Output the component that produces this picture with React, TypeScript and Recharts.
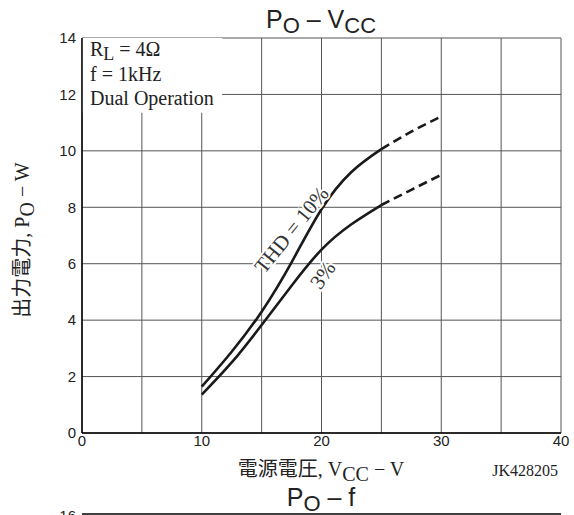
import { LineChart, Line, XAxis, YAxis, CartesianGrid, ReferenceArea, ReferenceDot } from 'recharts'

// supply voltage, V
const vcc = [10, 12.5, 15, 17.5, 20, 22.5, 25, 27.5, 30]
// output power, W
const thd10 = [1.64, 2.88, 4.3, 6.05, 7.93, 9.25, 10.06, 10.68, 11.22]
const thd3 = [1.36, 2.5, 3.83, 5.22, 6.5, 7.4, 8.08, 8.62, 9.15]
// last measured point, after which the curves are dashed
const solidEnd = 25

const xTicks = [0, 5, 10, 15, 20, 25, 30, 35, 40]
const yTicks = [0, 2, 4, 6, 8, 10, 12, 14]

const data = vcc.map((v, i) => ({
  vcc: v,
  thd10: v <= solidEnd ? thd10[i] : null,
  thd10Dash: v >= solidEnd ? thd10[i] : null,
  thd3: v <= solidEnd ? thd3[i] : null,
  thd3Dash: v >= solidEnd ? thd3[i] : null,
}))

const serif = '"Liberation Serif", "Noto Sans CJK JP", serif'
const sans = '"Liberation Sans", Arial, sans-serif'

function CurveLabel({ cx, cy, text, angle }: { cx?: number; cy?: number; text: string; angle: number }) {
  if (cx == null || cy == null) return null
  return (
    <text
      x={cx}
      y={cy}
      transform={`rotate(${angle} ${cx} ${cy})`}
      textAnchor="middle"
      dominantBaseline="central"
      fontFamily={serif}
      fontSize={21}
      fill="#333"
      stroke="#fff"
      strokeWidth={4}
      paintOrder="stroke"
    >
      {text}
    </text>
  )
}

export default function App() {
  return (
    <div style={{ position: 'absolute', left: 0, top: 0, width: 574, height: 515, background: '#fff' }}>
      <LineChart width={574} height={515} data={data} margin={{ top: 38, right: 13, bottom: 52, left: 42 }}>
        <CartesianGrid stroke="#555" strokeWidth={1} />
        <XAxis
          dataKey="vcc"
          type="number"
          domain={[0, 40]}
          ticks={xTicks}
          tickFormatter={(v) => (v % 10 === 0 ? String(v) : '')}
          tickLine={false}
          tickSize={0}
          tickMargin={2}
          height={30}
          axisLine={{ stroke: '#000', strokeWidth: 1.5 }}
          tick={{ fontFamily: sans, fontSize: 15, fill: '#222' }}
        />
        <YAxis
          type="number"
          domain={[0, 14]}
          ticks={yTicks}
          tickLine={false}
          tickSize={0}
          tickMargin={6}
          width={40}
          axisLine={{ stroke: '#000', strokeWidth: 1.5 }}
          tick={{ fontFamily: sans, fontSize: 15, fill: '#222' }}
        />
        <ReferenceArea x1={0} x2={11.7} y1={11.35} y2={14} fill="#fff" fillOpacity={1} stroke="none" />
        <Line dataKey="thd10" stroke="#1a1a1a" strokeWidth={2.6} dot={false} type="natural" isAnimationActive={false} />
        <Line dataKey="thd10Dash" stroke="#1a1a1a" strokeWidth={2.6} strokeDasharray="9 5" dot={false} type="natural" isAnimationActive={false} />
        <Line dataKey="thd3" stroke="#1a1a1a" strokeWidth={2.6} dot={false} type="natural" isAnimationActive={false} />
        <Line dataKey="thd3Dash" stroke="#1a1a1a" strokeWidth={2.6} strokeDasharray="9 5" dot={false} type="natural" isAnimationActive={false} />
        <ReferenceDot x={17.5} y={7.2} r={0} shape={(p: any) => <CurveLabel cx={p.cx} cy={p.cy} text="THD = 10%" angle={-51} />} />
        <ReferenceDot x={20.1} y={5.6} r={0} shape={(p: any) => <CurveLabel cx={p.cx} cy={p.cy} text="3%" angle={-55} />} />
      </LineChart>
      <svg width={574} height={515} style={{ position: 'absolute', left: 0, top: 0, pointerEvents: 'none' }}>
        <text x={321} y={28} textAnchor="middle" fontFamily={sans} fontSize={25} fill="#222">
          P<tspan fontSize={22} dy={5}>O</tspan>
          <tspan dy={-5}> – V</tspan>
          <tspan fontSize={22} dy={5}>CC</tspan>
        </text>
        <text fontFamily={serif} fontSize={20} fill="#222">
          <tspan x={90} y={56}>R</tspan>
          <tspan dy={4} fontSize={18}>L</tspan>
          <tspan dy={-4}> = 4Ω</tspan>
          <tspan x={90} y={81}>f = 1kHz</tspan>
          <tspan x={90} y={105}>Dual Operation</tspan>
        </text>
        <text transform="rotate(-90 22 240)" x={22} y={240} textAnchor="middle" dominantBaseline="central" fontFamily={serif} fontSize={20} fill="#222">
          出力電力, P<tspan dy={5}>O</tspan>
          <tspan dy={-5}> − W</tspan>
        </text>
        <text x={321} y={476} textAnchor="middle" fontFamily={serif} fontSize={20} fill="#222">
          電源電圧, V<tspan dy={5}>CC</tspan>
          <tspan dy={-5}> − V</tspan>
        </text>
        <text x={558} y={476} textAnchor="end" fontFamily={serif} fontSize={16} fill="#222">JK428205</text>
        <text x={321} y={506} textAnchor="middle" fontFamily={sans} fontSize={25} fill="#222">
          P<tspan fontSize={22} dy={5}>O</tspan>
          <tspan dy={-5}> – f</tspan>
        </text>
        <text x={76} y={521} textAnchor="end" fontFamily={sans} fontSize={15} fill="#222">16</text>
        <line x1={82} y1={514} x2={561} y2={514} stroke="#000" strokeWidth={1.5} />
      </svg>
    </div>
  )
}
